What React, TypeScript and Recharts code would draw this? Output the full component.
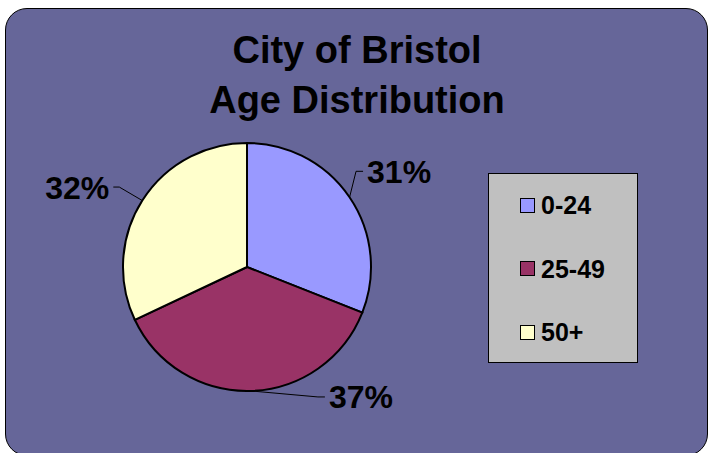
import React from 'react';
import { PieChart, Pie, Cell, Legend, Customized } from 'recharts';

const ageGroups = ['0-24', '25-49', '50+'];
const shares = [31, 37, 32];
const sliceColors = ['#9999FF', '#993366', '#FFFFCC'];
const titleLines = ['City of Bristol', 'Age Distribution'];

const data = ageGroups.map((name, i) => ({ name, value: shares[i] }));

// leader line elbow offsets from the slice edge, per slice
const leaderNudge = [
  { dx: 6.5, dy: -26, run: 7 },
  { dx: 67, dy: 6, run: 7 },
  { dx: -23, dy: -13.5, run: -6 },
];

const RAD = Math.PI / 180;
const FONT = '"Liberation Sans", Arial, sans-serif';

const renderLabel = (props: any) => {
  const { cx, cy, midAngle, outerRadius, index, value } = props;
  const ex = cx + outerRadius * Math.cos(-midAngle * RAD);
  const ey = cy + outerRadius * Math.sin(-midAngle * RAD);
  const n = leaderNudge[index];
  const bx = ex + n.dx;
  const by = ey + n.dy;
  const tx = bx + n.run;
  const right = n.run > 0;
  return (
    <g key={`lbl-${index}`}>
      <polyline points={`${ex},${ey} ${bx},${by} ${tx},${by}`} fill="none" stroke="#000" strokeWidth={1} />
      <text
        x={tx + (right ? 4 : -4)}
        y={by + 11.5}
        textAnchor={right ? 'start' : 'end'}
        fontSize={32}
        fontWeight="bold"
        fontFamily={FONT}
        fill="#000"
      >
        {`${value}%`}
      </text>
    </g>
  );
};

const Title = () => (
  <g>
    {titleLines.map((t, i) => (
      <text
        key={t}
        x={357}
        y={63 + i * 50}
        textAnchor="middle"
        fontSize={38}
        fontWeight="bold"
        fontFamily={FONT}
        fill="#000"
      >
        {t}
      </text>
    ))}
  </g>
);

const LegendBox = () => (
  <div
    style={{
      position: 'relative',
      width: 148,
      height: 188,
      background: '#C0C0C0',
      border: '1px solid #000',
      fontFamily: FONT,
    }}
  >
    {ageGroups.map((g, i) => (
      <div
        key={g}
        style={{
          position: 'absolute',
          left: 31,
          top: 21 + i * 63.5,
          height: 20,
          display: 'flex',
          alignItems: 'center',
        }}
      >
        <span
          style={{
            width: 13,
            height: 13,
            background: sliceColors[i],
            border: '1.5px solid #000',
            display: 'inline-block',
          }}
        />
        <span style={{ marginLeft: 6, fontSize: 25, fontWeight: 'bold', color: '#000', lineHeight: '20px' }}>{g}</span>
      </div>
    ))}
  </div>
);

export default function App() {
  return (
    <div style={{ position: 'absolute', left: 0, top: 0, width: 708, height: 453, background: '#fff', overflow: 'hidden' }}>
      <div
        style={{
          position: 'absolute',
          left: 5,
          top: 8,
          width: 701,
          height: 446,
          borderRadius: 22,
          border: '1.5px solid #000',
          background: '#666699',
        }}
      />
      <div style={{ position: 'absolute', left: 0, top: 0 }}>
        <PieChart width={708} height={453} margin={{ top: 0, right: 0, bottom: 0, left: 0 }}>
          <Customized component={Title} />
          <Pie
            data={data}
            dataKey="value"
            nameKey="name"
            cx={247}
            cy={267}
            outerRadius={124}
            startAngle={90}
            endAngle={-270}
            stroke="#000"
            strokeWidth={2}
            labelLine={false}
            label={renderLabel}
            isAnimationActive={false}
          >
            {data.map((d, i) => (
              <Cell key={d.name} fill={sliceColors[i]} />
            ))}
          </Pie>
          <Legend
            content={<LegendBox />}
            wrapperStyle={{ left: 488, top: 173, width: 150, height: 190 }}
          />
        </PieChart>
      </div>
    </div>
  );
}
